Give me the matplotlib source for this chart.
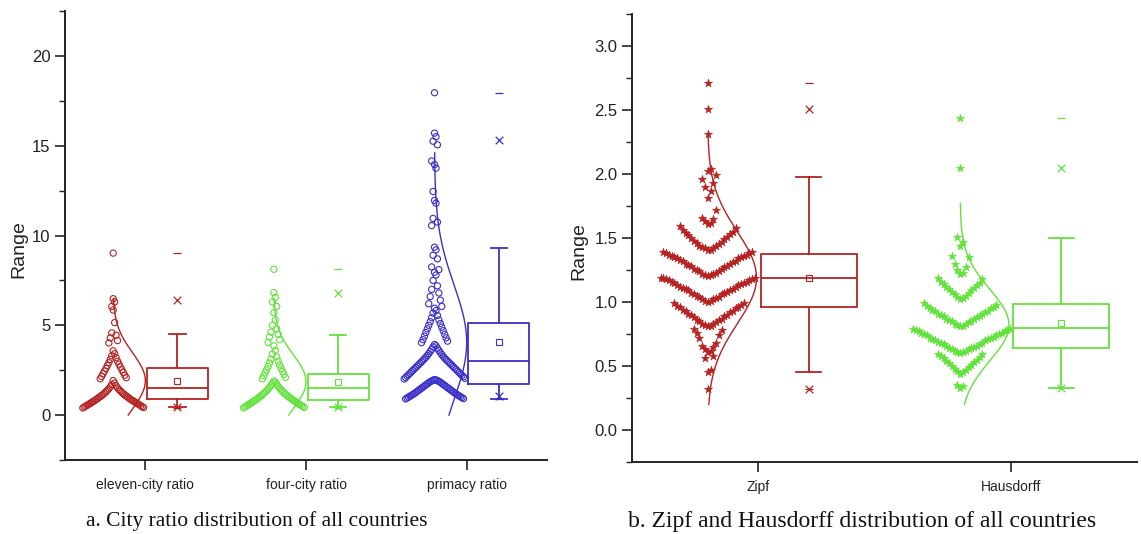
import numpy as np
import matplotlib
matplotlib.use("Agg")
import matplotlib.pyplot as plt
from matplotlib.ticker import MultipleLocator, FormatStrFormatter

# ---------------- data: panel a (city ratios) ----------------
categories_a = ["eleven-city ratio", "four-city ratio", "primacy ratio"]

eleven_city = [
    0.40, 0.42, 0.45, 0.47, 0.50, 0.52, 0.55, 0.58, 0.60, 0.63, 0.65, 0.68, 0.70, 0.73, 0.75,
    0.78, 0.80, 0.83, 0.86, 0.88, 0.91, 0.94, 0.97, 1.00, 1.03, 1.06, 1.09, 1.12, 1.15, 1.19,
    1.22, 1.26, 1.30, 1.34, 1.38, 1.42, 1.47, 1.52, 1.57, 1.63, 1.70, 1.78, 1.92,
    2.02, 2.08, 2.15, 2.22, 2.30, 2.38, 2.45, 2.52, 2.60, 2.68, 2.76, 2.84, 2.92, 3.00, 3.10,
    3.20, 3.30, 3.42, 3.58,
    4.02, 4.15, 4.30, 4.45, 4.58, 5.15, 5.85,
    6.05, 6.30, 6.48,
    9.02,
]
four_city = [
    0.40, 0.43, 0.45, 0.48, 0.50, 0.53, 0.55, 0.58, 0.61, 0.63, 0.66, 0.69, 0.71, 0.74, 0.77,
    0.80, 0.82, 0.85, 0.88, 0.91, 0.94, 0.97, 1.00, 1.03, 1.06, 1.10, 1.13, 1.17, 1.20, 1.24,
    1.28, 1.32, 1.36, 1.40, 1.45, 1.50, 1.55, 1.60, 1.66, 1.72, 1.78, 1.84, 1.90,
    2.02, 2.10, 2.18, 2.27, 2.35, 2.44, 2.52, 2.61, 2.70, 2.80, 2.90, 3.00, 3.12, 3.25, 3.40,
    3.60, 3.85,
    4.05, 4.20, 4.35, 4.50, 4.62, 4.80, 5.00, 5.30, 5.70,
    6.05, 6.30, 6.55, 6.82,
    8.12,
]
primacy = [
    0.90, 0.92, 0.95, 0.97, 1.00, 1.02, 1.05, 1.07, 1.10, 1.12, 1.15, 1.18, 1.20, 1.23, 1.26,
    1.29, 1.32, 1.35, 1.38, 1.41, 1.44, 1.47, 1.50, 1.53, 1.56, 1.59, 1.62, 1.65, 1.68, 1.71,
    1.74, 1.77, 1.80, 1.83, 1.86, 1.88, 1.90, 1.92, 1.94, 1.96, 1.98,
    2.01, 2.05, 2.09, 2.13, 2.17, 2.21, 2.25, 2.29, 2.33, 2.37, 2.41, 2.45, 2.49, 2.53, 2.57,
    2.61, 2.65, 2.69, 2.73, 2.77, 2.81, 2.85, 2.89, 2.93, 2.97, 3.01, 3.05, 3.09, 3.13, 3.17,
    3.22, 3.27, 3.32, 3.37, 3.42, 3.48, 3.54, 3.60, 3.66, 3.72, 3.79, 3.86, 3.93,
    4.03, 4.12, 4.20, 4.30, 4.40, 4.50, 4.60, 4.70, 4.80, 4.90, 5.00, 5.10, 5.20, 5.30, 5.42,
    5.55, 5.68, 5.82, 5.95,
    6.05, 6.20, 6.40, 6.60, 6.80, 7.00, 7.20, 7.50, 7.80, 7.95,
    8.10, 8.25, 8.70, 8.90, 9.20, 9.35,
    10.55, 10.75, 10.95, 11.80, 11.95,
    12.45, 13.75, 13.95,
    14.15, 15.05, 15.25, 15.50, 15.70,
    17.95,
]
# box statistics: q1, median, q3, mean, whisker low/high, 1%, 99%, min, max
q1_a = [0.89, 0.84, 1.71]
med_a = [1.52, 1.49, 3.01]
q3_a = [2.60, 2.28, 5.11]
mean_a = [1.91, 1.86, 4.05]
whislo_a = [0.43, 0.43, 0.87]
whishi_a = [4.51, 4.46, 9.32]
p1_a = [0.43, 0.43, 1.05]
p99_a = [6.41, 6.82, 15.30]
min_a = [0.40, 0.40, 0.90]
max_a = [9.02, 8.12, 17.95]
# normal curve: mean, sd, y-range
curve_mean_a = [1.91, 1.86, 4.05]
curve_sd_a = [1.55, 1.50, 3.20]
curve_lo_a = [0.0, 0.0, 0.0]
curve_hi_a = [6.5, 6.5, 14.6]

# ---------------- data: panel b (Zipf / Hausdorff) ----------------
categories_b = ["Zipf", "Hausdorff"]

zipf = [
    0.32,
    0.45, 0.47, 0.56, 0.58,
    0.61, 0.62, 0.63, 0.65, 0.66, 0.68, 0.72, 0.74, 0.76, 0.78, 0.79,
    0.81, 0.81, 0.82, 0.83, 0.83, 0.84, 0.85, 0.86, 0.86, 0.87, 0.88, 0.89, 0.90, 0.90, 0.91,
    0.92, 0.93, 0.93, 0.94, 0.95, 0.96, 0.96, 0.97, 0.98, 0.99, 0.99,
    1.00, 1.01, 1.01, 1.02, 1.02, 1.03, 1.04, 1.04, 1.05, 1.06, 1.06, 1.07, 1.07, 1.08, 1.09,
    1.09, 1.10, 1.10, 1.11, 1.12, 1.12, 1.13, 1.13, 1.14, 1.15, 1.15, 1.16, 1.16, 1.17, 1.17,
    1.18, 1.18, 1.19, 1.19, 1.19,
    1.20, 1.21, 1.21, 1.22, 1.22, 1.23, 1.24, 1.24, 1.25, 1.26, 1.26, 1.27, 1.28, 1.28, 1.29,
    1.30, 1.30, 1.31, 1.32, 1.32, 1.33, 1.34, 1.34, 1.35, 1.35, 1.36, 1.36, 1.37, 1.37, 1.38,
    1.38, 1.39, 1.39,
    1.41, 1.41, 1.42, 1.42, 1.43, 1.44, 1.44, 1.45, 1.46, 1.47, 1.48, 1.49, 1.50, 1.51, 1.52,
    1.53, 1.54, 1.55, 1.56, 1.58, 1.59,
    1.61, 1.62, 1.63, 1.65, 1.66, 1.72,
    1.81, 1.87, 1.90, 1.93, 1.96, 1.99,
    2.02, 2.04,
    2.31, 2.51, 2.71,
]
hausdorff = [
    0.33, 0.34, 0.35,
    0.44, 0.45, 0.46, 0.47, 0.48, 0.49, 0.50, 0.51, 0.52, 0.53, 0.54, 0.55, 0.56, 0.57, 0.58,
    0.59, 0.59,
    0.60, 0.61, 0.61, 0.62, 0.62, 0.63, 0.63, 0.64, 0.64, 0.65, 0.66, 0.66, 0.67, 0.67, 0.68,
    0.68, 0.69, 0.70, 0.70, 0.71, 0.71, 0.72, 0.72, 0.73, 0.74, 0.74, 0.75, 0.75, 0.76, 0.76,
    0.77, 0.77, 0.78, 0.78, 0.79, 0.79,
    0.81, 0.81, 0.82, 0.83, 0.83, 0.84, 0.85, 0.85, 0.86, 0.87, 0.87, 0.88, 0.89, 0.89, 0.90,
    0.91, 0.91, 0.92, 0.93, 0.93, 0.94, 0.95, 0.95, 0.96, 0.97, 0.98, 0.99,
    1.02, 1.03, 1.04, 1.05, 1.06, 1.07, 1.08, 1.09, 1.10, 1.11, 1.12, 1.13, 1.14, 1.15, 1.16,
    1.18, 1.19,
    1.22, 1.23, 1.25, 1.27, 1.30, 1.35, 1.36,
    1.44, 1.47, 1.51,
    2.05, 2.44,
]
q1_b = [0.964, 0.642]
med_b = [1.188, 0.798]
q3_b = [1.375, 0.988]
mean_b = [1.19, 0.837]
whislo_b = [0.452, 0.33]
whishi_b = [1.98, 1.502]
p1_b = [0.322, 0.33]
p99_b = [2.506, 2.046]
min_b = [0.32, 0.33]
max_b = [2.71, 2.436]
curve_mean_b = [1.19, 0.82]
curve_sd_b = [0.36, 0.28]
curve_lo_b = [0.2, 0.2]
curve_hi_b = [2.3, 1.77]

RED = "#B52222"
GREEN = "#62E23C"
BLUE = "#3A2FC8"
colors_a = [RED, GREEN, BLUE]
colors_b = [RED, GREEN]


def chevron_offsets(vals, bin_w, step, descending):
    vals = np.asarray(vals, dtype=float)
    offs = np.zeros(len(vals))
    bins = np.floor(vals / bin_w + 1e-6).astype(int)
    for b in np.unique(bins):
        idx = np.where(bins == b)[0]
        order = idx[np.argsort(vals[idx], kind="stable")]
        if descending:
            order = order[::-1]
        for k, i in enumerate(order):
            m = (k + 1) // 2
            offs[i] = m * step if k % 2 == 1 else -m * step
    return offs


def draw_panel(ax, series, colors, q1, med, q3, mean, wlo, whi, p1, p99, mn, mx,
               cm, csd, clo, chi, marker, msize, bin_w, step, descending, peak):
    for i, vals in enumerate(series):
        pos = i + 1
        col = colors[i]
        v = np.asarray(vals, dtype=float)
        off = chevron_offsets(v, bin_w, step, descending)
        if marker == "o":
            ax.scatter(pos - 0.2 + off, v, marker="o", s=msize, facecolors="none",
                       edgecolors=col, linewidths=0.8, zorder=3)
        else:
            ax.scatter(pos - 0.2 + off, v, marker=marker, s=msize, color=col,
                       edgecolors=col, linewidths=0.4, zorder=3)
        yy = np.linspace(clo[i], chi[i], 300)
        xx = pos - 0.2 + peak * np.exp(-0.5 * ((yy - cm[i]) / csd[i]) ** 2)
        ax.plot(xx, yy, color=col, lw=1.0, zorder=4)
        st = dict(med=med[i], q1=q1[i], q3=q3[i], whislo=wlo[i], whishi=whi[i],
                  mean=mean[i], fliers=[])
        lp = dict(color=col, linewidth=1.3)
        ax.bxp([st], positions=[pos + 0.2], widths=0.38, capwidths=0.1,
               showmeans=True, showfliers=False, manage_ticks=False,
               boxprops=lp, whiskerprops=lp, capprops=lp, medianprops=lp,
               meanprops=dict(marker="s", markerfacecolor="none",
                              markeredgecolor=col, markersize=5, markeredgewidth=0.8))
        ax.scatter([pos + 0.2, pos + 0.2], [p1[i], p99[i]], marker="x", s=30,
                   color=col, linewidths=0.9, zorder=5)
        ax.scatter([pos + 0.2, pos + 0.2], [mn[i], mx[i]], marker="_", s=30,
                   color=col, linewidths=0.9, zorder=5)


def style_axes(ax, cats, ylim, major, minor, fmt):
    ax.set_xlim(0.5, len(cats) + 0.5)
    ax.set_ylim(*ylim)
    ax.set_xticks(np.arange(1, len(cats) + 1))
    ax.set_xticklabels(cats, fontsize=10, color="#222222")
    ax.yaxis.set_major_locator(MultipleLocator(major))
    ax.yaxis.set_minor_locator(MultipleLocator(minor))
    ax.yaxis.set_major_formatter(FormatStrFormatter(fmt))
    for s in ("top", "right"):
        ax.spines[s].set_visible(False)
    for s in ("left", "bottom"):
        ax.spines[s].set_linewidth(1.4)
        ax.spines[s].set_color("#222222")
    ax.tick_params(axis="y", which="major", length=7, width=1.2, labelsize=12,
                   colors="#222222")
    ax.tick_params(axis="y", which="minor", length=4, width=1.0, colors="#222222")
    ax.tick_params(axis="x", which="major", length=7, width=1.2, pad=6, colors="#222222")
    ax.tick_params(axis="x", which="minor", length=0)
    ax.set_ylabel("Range", fontsize=14, color="#222222")


plt.rcParams["font.family"] = ["Liberation Sans", "DejaVu Sans"]

fig = plt.figure(figsize=(11.41, 5.34), dpi=100)
axa = fig.add_axes([65 / 1141, 74 / 534, 482 / 1141, 449 / 534])
axb = fig.add_axes([632 / 1141, 72 / 534, 505 / 1141, 448 / 534])

draw_panel(axa, [eleven_city, four_city, primacy], colors_a, q1_a, med_a, q3_a, mean_a,
           whislo_a, whishi_a, p1_a, p99_a, min_a, max_a,
           curve_mean_a, curve_sd_a, curve_lo_a, curve_hi_a,
           marker="o", msize=20, bin_w=2.0, step=0.009, descending=True, peak=0.2)
style_axes(axa, categories_a, (-2.5, 22.5), 5, 2.5, "%d")
axa.yaxis.set_label_coords(-0.079, 0.47)

draw_panel(axb, [zipf, hausdorff], colors_b, q1_b, med_b, q3_b, mean_b,
           whislo_b, whishi_b, p1_b, p99_b, min_b, max_b,
           curve_mean_b, curve_sd_b, curve_lo_b, curve_hi_b,
           marker="*", msize=38, bin_w=0.2, step=0.011, descending=False, peak=0.193)
style_axes(axb, categories_b, (-0.25, 3.25), 0.5, 0.25, "%.1f")
axb.yaxis.set_label_coords(-0.089, 0.47)

fig.text(257 / 1141, 1 - 521 / 534, "a. City ratio distribution of all countries",
         ha="center", va="center", fontsize=15.5, family="Liberation Serif", color="#111111")
fig.text(862 / 1141, 1 - 521 / 534, "b. Zipf and Hausdorff distribution of all countries",
         ha="center", va="center", fontsize=17, family="Liberation Serif", color="#111111")

fig.savefig("out.png", dpi=100)
